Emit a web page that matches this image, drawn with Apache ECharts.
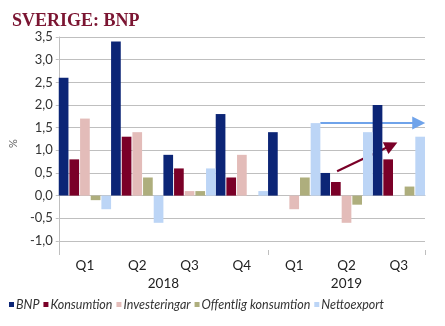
<!DOCTYPE html>
<html><head><meta charset="utf-8">
<script src="https://cdn.jsdelivr.net/npm/echarts@6/dist/echarts.min.js"></script>
<style>html,body{margin:0;padding:0;background:#fff}#c{width:445px;height:326px}</style>
</head><body><div id="c"></div>
<script>
// ---- data ----
const quarters = ['Q1','Q2','Q3','Q4','Q1','Q2','Q3'];
const years = ['2018','2019'];
const yearSpans = [4,3];
const bnp          = [2.6, 3.4, 0.9, 1.8, 1.4, 0.5, 2.0];
const konsumtion   = [0.8, 1.3, 0.6, 0.4, 0.0, 0.3, 0.8];
const investeringar= [1.7, 1.4, 0.1, 0.9, -0.3, -0.6, 0.0];
const offentlig    = [-0.1, 0.4, 0.1, 0.0, 0.4, -0.2, 0.2];
const nettoexport  = [-0.3, -0.6, 0.6, 0.1, 1.6, 1.4, 1.3];
const yTicks = [-1.0,-0.5,0,0.5,1.0,1.5,2.0,2.5,3.0,3.5];
// annotation arrows in data coordinates (x: category position 0..7, y: %)
const blueArrow = [[5.0,1.6],[6.88,1.6]];
const redArrow  = [[5.32,0.54],[6.36,1.11]];

const names = ['BNP','Konsumtion','Investeringar','Offentlig konsumtion','Nettoexport'];
const colors = ['#0c2576','#7a0028','#e3bcb9','#aeae7d','#bcd5f6'];
const seriesData = [bnp,konsumtion,investeringar,offentlig,nettoexport];

// year label centers and group boundaries
const yearCenters = []; const yearBounds = [0];
let acc = 0;
yearSpans.forEach(s => { yearCenters.push(acc + s/2); acc += s; yearBounds.push(acc); });

const font = 'Lato';
const chart = echarts.init(document.getElementById('c'));
const series = names.map((n,i)=>({
  name:n, type:'bar', data:seriesData[i], xAxisIndex:0, yAxisIndex:0,
  itemStyle:{color:colors[i]}, barGap:'10%', barCategoryGap:'0%'
}));
series.push({
  type:'lines', coordinateSystem:'cartesian2d', xAxisIndex:1, yAxisIndex:0,
  symbol:['none','triangle'], symbolSize:[13,13], silent:true,
  lineStyle:{width:2.2, opacity:1, curveness:0},
  data:[
    {coords:blueArrow, lineStyle:{color:'#6fa3ea'}},
    {coords:redArrow, lineStyle:{color:'#7a0028'}}
  ]
});
chart.setOption({
  animation:false,
  title:{text:'SVERIGE: BNP', left:7, top:7,
    textStyle:{fontFamily:'Liberation Serif', fontWeight:'bold', fontSize:18, color:'#7b1532'}},
  grid:{left:50, right:20, top:37, bottom:76},
  legend:{data:names, bottom:10, left:4, icon:'rect', itemWidth:5, itemHeight:5, itemGap:4,
    textStyle:{fontFamily:font, fontStyle:'italic', fontSize:12.5, color:'#333', padding:[0,0,0,-3]}},
  xAxis:[
    {type:'category', data:quarters, position:'bottom',
      axisLine:{lineStyle:{color:'#bfbfbf'}}, axisTick:{length:3, lineStyle:{color:'#bfbfbf'}},
      axisLabel:{fontFamily:font, fontSize:13.5, color:'#222', margin:9}},
    {type:'value', min:0, max:7, position:'bottom',
      axisLine:{show:false}, splitLine:{show:false},
      axisTick:{show:true, customValues:yearBounds, length:5, lineStyle:{color:'#bfbfbf'}},
      axisLabel:{customValues:yearCenters, margin:27, fontFamily:font, fontSize:13.5, color:'#222',
        formatter:v=>{const i=yearCenters.indexOf(v); return i>=0?years[i]:'';}}}
  ],
  yAxis:{type:'value', min:-1.2, max:3.5, name:'%', nameLocation:'middle', nameRotate:90, nameGap:36,
    nameTextStyle:{fontFamily:font, fontSize:11, color:'#666'},
    axisLine:{show:true, lineStyle:{color:'#bfbfbf'}},
    axisTick:{show:true, customValues:yTicks, length:3, lineStyle:{color:'#bfbfbf'}},
    splitLine:{show:true, lineStyle:{color:'#bfbfbf', width:1}},
    axisLabel:{customValues:yTicks, fontFamily:font, fontSize:13, color:'#333', margin:6,
      formatter:v=>v.toFixed(1).replace('.',',')}},
  series:series
});
</script></body></html>
